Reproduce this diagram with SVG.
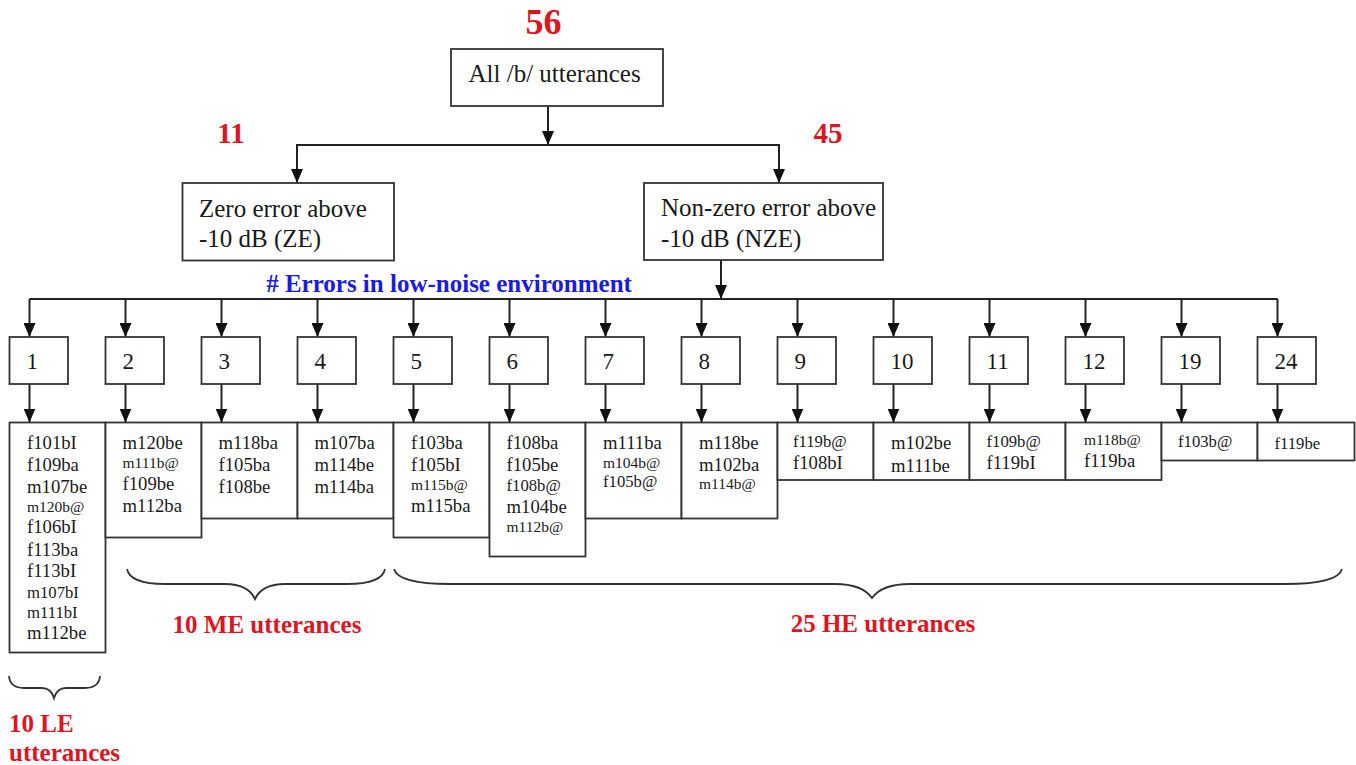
<svg xmlns="http://www.w3.org/2000/svg" width="1356" height="765" viewBox="0 0 1356 765">
<defs>
<marker id="ah" markerUnits="userSpaceOnUse" markerWidth="14" markerHeight="12" refX="14" refY="6" orient="auto">
<path d="M0,0 L14,6 L0,12 z" fill="#111"/>
</marker>
<style>
.box{fill:#fff;stroke:#333;stroke-width:1.8}
.con{fill:none;stroke:#222;stroke-width:2}
.arr{fill:none;stroke:#222;stroke-width:2;marker-end:url(#ah)}
.brace{fill:none;stroke:#333;stroke-width:1.8}
.t{font-family:"Liberation Serif","Times New Roman",serif;fill:#1a1a1a}
.big{font-size:25px}
.num{font-size:23px}
.l{font-size:18.7px}
.m{font-size:16.7px}
.s{font-size:15.5px}
.red{font-family:"Liberation Serif","Times New Roman",serif;font-weight:bold;fill:#e0141e}
.blue{font-family:"Liberation Serif","Times New Roman",serif;font-weight:bold;fill:#1c1ce0;font-size:25px}
</style>
</defs>
<rect width="1356" height="765" fill="#fff"/>

<g id="connectors">
<line class="arr" x1="548" y1="106" x2="548" y2="145"/>
<polyline class="con" points="297,183 297,145 779,145 779,183"/>
<line class="arr" x1="297" y1="145" x2="297" y2="183"/>
<line class="arr" x1="779" y1="145" x2="779" y2="183"/>
<line class="arr" x1="721" y1="260" x2="721" y2="299"/>
<line class="con" x1="29.5" y1="299" x2="1277.5" y2="299"/>
<line class="arr" x1="29.5" y1="299" x2="29.5" y2="337"/>
<line class="arr" x1="125.5" y1="299" x2="125.5" y2="337"/>
<line class="arr" x1="221.5" y1="299" x2="221.5" y2="337"/>
<line class="arr" x1="317.5" y1="299" x2="317.5" y2="337"/>
<line class="arr" x1="413.5" y1="299" x2="413.5" y2="337"/>
<line class="arr" x1="509.5" y1="299" x2="509.5" y2="337"/>
<line class="arr" x1="605.5" y1="299" x2="605.5" y2="337"/>
<line class="arr" x1="701.5" y1="299" x2="701.5" y2="337"/>
<line class="arr" x1="797.5" y1="299" x2="797.5" y2="337"/>
<line class="arr" x1="893.5" y1="299" x2="893.5" y2="337"/>
<line class="arr" x1="989.5" y1="299" x2="989.5" y2="337"/>
<line class="arr" x1="1085.5" y1="299" x2="1085.5" y2="337"/>
<line class="arr" x1="1181.5" y1="299" x2="1181.5" y2="337"/>
<line class="arr" x1="1277.5" y1="299" x2="1277.5" y2="337"/>
<line class="arr" x1="29.5" y1="384" x2="29.5" y2="422.5"/>
<line class="arr" x1="125.5" y1="384" x2="125.5" y2="422.5"/>
<line class="arr" x1="221.5" y1="384" x2="221.5" y2="422.5"/>
<line class="arr" x1="317.5" y1="384" x2="317.5" y2="422.5"/>
<line class="arr" x1="413.5" y1="384" x2="413.5" y2="422.5"/>
<line class="arr" x1="509.5" y1="384" x2="509.5" y2="422.5"/>
<line class="arr" x1="605.5" y1="384" x2="605.5" y2="422.5"/>
<line class="arr" x1="701.5" y1="384" x2="701.5" y2="422.5"/>
<line class="arr" x1="797.5" y1="384" x2="797.5" y2="422.5"/>
<line class="arr" x1="893.5" y1="384" x2="893.5" y2="422.5"/>
<line class="arr" x1="989.5" y1="384" x2="989.5" y2="422.5"/>
<line class="arr" x1="1085.5" y1="384" x2="1085.5" y2="422.5"/>
<line class="arr" x1="1181.5" y1="384" x2="1181.5" y2="422.5"/>
<line class="arr" x1="1277.5" y1="384" x2="1277.5" y2="422.5"/>
</g>

<text class="red" x="543.5" y="34" font-size="36" text-anchor="middle">56</text>
<text class="red" x="231" y="143" font-size="29" text-anchor="middle">11</text>
<text class="red" x="828" y="143" font-size="29" text-anchor="middle">45</text>

<g id="all">
<rect class="box" x="451" y="49" width="212" height="57"/>
<text class="t big" x="468.5" y="82">All /b/ utterances</text>
</g>
<g id="ze">
<rect class="box" x="182.5" y="183" width="211.5" height="77.5"/>
<text class="t big" x="199" y="217">Zero error above</text>
<text class="t big" x="199" y="247">-10 dB (ZE)</text>
</g>
<g id="nze">
<rect class="box" x="644" y="183" width="239" height="77"/>
<text class="t big" x="661" y="216">Non-zero error above</text>
<text class="t big" x="661" y="246.5">-10 dB (NZE)</text>
</g>

<text class="blue" x="449" y="292" text-anchor="middle"># Errors in low-noise environment</text>

<g id="n1"><rect class="box" x="9.5" y="337" width="58.5" height="47"/><text class="t num" x="26.5" y="369">1</text></g>
<g id="n2"><rect class="box" x="105.5" y="337" width="58.5" height="47"/><text class="t num" x="122.5" y="369">2</text></g>
<g id="n3"><rect class="box" x="201.5" y="337" width="58.5" height="47"/><text class="t num" x="218.5" y="369">3</text></g>
<g id="n4"><rect class="box" x="297.5" y="337" width="58.5" height="47"/><text class="t num" x="314.5" y="369">4</text></g>
<g id="n5"><rect class="box" x="393.5" y="337" width="58.5" height="47"/><text class="t num" x="410.5" y="369">5</text></g>
<g id="n6"><rect class="box" x="489.5" y="337" width="58.5" height="47"/><text class="t num" x="506.5" y="369">6</text></g>
<g id="n7"><rect class="box" x="585.5" y="337" width="58.5" height="47"/><text class="t num" x="602.5" y="369">7</text></g>
<g id="n8"><rect class="box" x="681.5" y="337" width="58.5" height="47"/><text class="t num" x="698.5" y="369">8</text></g>
<g id="n9"><rect class="box" x="777.5" y="337" width="58.5" height="47"/><text class="t num" x="794.5" y="369">9</text></g>
<g id="n10"><rect class="box" x="873.5" y="337" width="58.5" height="47"/><text class="t num" x="890.5" y="369">10</text></g>
<g id="n11"><rect class="box" x="969.5" y="337" width="58.5" height="47"/><text class="t num" x="986.5" y="369">11</text></g>
<g id="n12"><rect class="box" x="1065.5" y="337" width="58.5" height="47"/><text class="t num" x="1082.5" y="369">12</text></g>
<g id="n19"><rect class="box" x="1161.5" y="337" width="58.5" height="47"/><text class="t num" x="1178.5" y="369">19</text></g>
<g id="n24"><rect class="box" x="1257.5" y="337" width="58.5" height="47"/><text class="t num" x="1274.5" y="369">24</text></g>

<g id="list1"><rect class="box" x="9.5" y="422.5" width="96" height="230"/>
<text class="t l" x="27" y="449">f101bI</text>
<text class="t l" x="27" y="471">f109ba</text>
<text class="t l" x="27" y="493">m107be</text>
<text class="t s" x="27" y="512">m120b@</text>
<text class="t l" x="27" y="533">f106bI</text>
<text class="t l" x="27" y="555.5">f113ba</text>
<text class="t l" x="27" y="577">f113bI</text>
<text class="t m" x="27" y="598">m107bI</text>
<text class="t m" x="27" y="618">m111bI</text>
<text class="t l" x="27" y="639">m112be</text>
</g>
<g id="list2"><rect class="box" x="105.5" y="422.5" width="96" height="115"/>
<text class="t l" x="122.5" y="449">m120be</text>
<text class="t s" x="122.5" y="468">m111b@</text>
<text class="t l" x="122.5" y="489.5">f109be</text>
<text class="t l" x="122.5" y="511.5">m112ba</text>
</g>
<g id="list3"><rect class="box" x="201.5" y="422.5" width="96" height="96"/>
<text class="t l" x="218.5" y="449">m118ba</text>
<text class="t l" x="218.5" y="471">f105ba</text>
<text class="t l" x="218.5" y="493">f108be</text>
</g>
<g id="list4"><rect class="box" x="297.5" y="422.5" width="96" height="96"/>
<text class="t l" x="314.5" y="449">m107ba</text>
<text class="t l" x="314.5" y="471">m114be</text>
<text class="t l" x="314.5" y="493">m114ba</text>
</g>
<g id="list5"><rect class="box" x="393.5" y="422.5" width="96" height="115"/>
<text class="t l" x="411" y="449">f103ba</text>
<text class="t l" x="411" y="471">f105bI</text>
<text class="t s" x="411" y="490">m115b@</text>
<text class="t l" x="411" y="511.5">m115ba</text>
</g>
<g id="list6"><rect class="box" x="489.5" y="422.5" width="96" height="134"/>
<text class="t l" x="506.5" y="449">f108ba</text>
<text class="t l" x="506.5" y="471">f105be</text>
<text class="t m" x="506.5" y="491">f108b@</text>
<text class="t l" x="506.5" y="512.5">m104be</text>
<text class="t s" x="506.5" y="532">m112b@</text>
</g>
<g id="list7"><rect class="box" x="585.5" y="422.5" width="96" height="96"/>
<text class="t l" x="603" y="449">m111ba</text>
<text class="t s" x="603" y="468">m104b@</text>
<text class="t m" x="603" y="487">f105b@</text>
</g>
<g id="list8"><rect class="box" x="681.5" y="422.5" width="96" height="96"/>
<text class="t l" x="699" y="449">m118be</text>
<text class="t l" x="699" y="471">m102ba</text>
<text class="t s" x="699" y="488.5">m114b@</text>
</g>
<g id="list9"><rect class="box" x="777.5" y="422.5" width="96" height="57.5"/>
<text class="t m" x="793" y="447">f119b@</text>
<text class="t l" x="793" y="468.5">f108bI</text>
</g>
<g id="list10"><rect class="box" x="873.5" y="422.5" width="96" height="57.5"/>
<text class="t l" x="891" y="448.5">m102be</text>
<text class="t l" x="891" y="471.5">m111be</text>
</g>
<g id="list11"><rect class="box" x="969.5" y="422.5" width="96" height="57.5"/>
<text class="t m" x="986.5" y="447">f109b@</text>
<text class="t l" x="986.5" y="468.5">f119bI</text>
</g>
<g id="list12"><rect class="box" x="1065.5" y="422.5" width="96" height="57.5"/>
<text class="t s" x="1084" y="445">m118b@</text>
<text class="t l" x="1084" y="467">f119ba</text>
</g>
<g id="list19"><rect class="box" x="1161.5" y="422.5" width="96" height="38"/>
<text class="t m" x="1178" y="447">f103b@</text>
</g>
<g id="list24"><rect class="box" x="1257.5" y="422.5" width="97" height="38"/>
<text class="t m" x="1274.5" y="448.5">f119be</text>
</g>

<g id="braces">
<path class="brace" d="M9,676 Q10,688 24,688 L42,688 Q51,688 54,698 Q57,688 66,688 L85,688 Q99,688 100,676"/>
<path class="brace" d="M127,569 Q130,584 165,584 L225,584 Q248,584 255,599 Q262,584 285,584 L347,584 Q382,584 385,569"/>
<path class="brace" d="M394,569 Q398,584 450,584 L835,584 Q862,584 872,598 Q882,584 910,584 L1285,584 Q1338,584 1342,569"/>
</g>
<g id="labels">
<text class="red" x="267" y="633" font-size="25" text-anchor="middle">10 ME utterances</text>
<text class="red" x="883" y="632" font-size="25" text-anchor="middle">25 HE utterances</text>
<text class="red" x="9" y="731.5" font-size="25">10 LE</text>
<text class="red" x="9" y="760.5" font-size="25">utterances</text>
</g>
</svg>
